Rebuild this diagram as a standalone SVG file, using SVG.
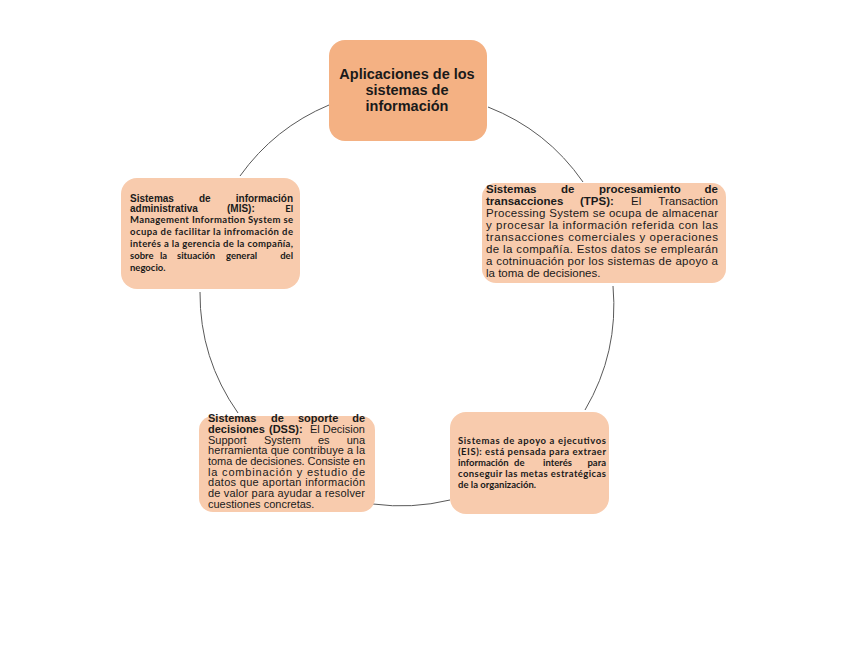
<svg xmlns="http://www.w3.org/2000/svg" width="848" height="655" viewBox="0 0 848 655">
<style>
.main{fill:#f4b183}
.box{fill:#f8cbad}
.conn{fill:none;stroke:#595959;stroke-width:1}
.t{font-family:"Liberation Sans",Arial,sans-serif;fill:#1a1a1a}
.b{font-weight:bold}
.c{font-family:Lato,"Noto Sans",sans-serif;font-weight:bold;font-size:9.5px;fill:#1a1a1a}
</style>
<rect width="848" height="655" fill="#ffffff"/>
<g id="connectors">
<path class="conn" d="M329,105 A208,208 0 0 0 240,176"/>
<path class="conn" d="M488,107 A208,208 0 0 1 583,182"/>
<path class="conn" d="M613,286 A208,208 0 0 1 585,410"/>
<path class="conn" d="M450,500 A208,208 0 0 1 373,504"/>
<path class="conn" d="M238,413 A208,208 0 0 1 200,292"/>
</g>
<g id="main">
<rect class="main" x="329" y="40" width="158" height="101" rx="16"/>
<text class="t b" font-size="14.5" text-anchor="middle" fill="#000"><tspan x="407" y="79">Aplicaciones de los</tspan><tspan x="407" y="95">sistemas de</tspan><tspan x="407" y="111">información</tspan></text>
</g>
<g id="tps">
<rect class="box" x="482" y="183" width="244" height="100" rx="14"/>
<g class="t" font-size="11.5">
<text class="b" y="193"><tspan x="486">Sistemas</tspan><tspan x="561">de</tspan><tspan x="599">procesamiento</tspan></text>
<text class="b" x="718" y="193" text-anchor="end">de</text>
<text y="205"><tspan x="486" class="b">transacciones</tspan><tspan x="580" class="b">(TPS):</tspan><tspan x="631">El</tspan></text>
<text x="718" y="205" text-anchor="end">Transaction</text>
<text x="486" y="217" textLength="232" lengthAdjust="spacing">Processing System se ocupa de almacenar</text>
<text x="486" y="229" textLength="232" lengthAdjust="spacing">y procesar la información referida con las</text>
<text x="486" y="241" textLength="232" lengthAdjust="spacing">transacciones comerciales y operaciones</text>
<text x="486" y="253" textLength="232" lengthAdjust="spacing">de la compañía. Estos datos se emplearán</text>
<text x="486" y="265" textLength="232" lengthAdjust="spacing">a cotninuación por los sistemas de apoyo a</text>
<text x="486" y="277">la toma de decisiones.</text>
</g>
</g>
<g id="mis">
<rect class="box" x="121" y="178" width="179" height="111" rx="16"/>
<g class="t b" font-size="10">
<text y="202"><tspan x="130">Sistemas</tspan><tspan x="199">de</tspan></text>
<text x="293" y="202" text-anchor="end">información</text>
<text y="212"><tspan x="130">administrativa</tspan><tspan x="227">(MIS):</tspan></text>
</g>
<text class="c" x="293" y="212" text-anchor="end">El</text>
<text class="c" x="130" y="223" textLength="163" lengthAdjust="spacing">Management Information System se</text>
<text class="c" x="130" y="235" textLength="163" lengthAdjust="spacing">ocupa de facilitar la infromación de</text>
<text class="c" x="130" y="247" textLength="163" lengthAdjust="spacing">interés a la gerencia de la compañía,</text>
<text class="c" y="259"><tspan x="130">sobre</tspan><tspan x="160">la</tspan><tspan x="177">situación</tspan><tspan x="226">general</tspan></text>
<text class="c" x="293" y="259" text-anchor="end">del</text>
<text class="c" x="130" y="271">negocio.</text>
</g>
<g id="dss">
<rect class="box" x="199" y="416" width="176" height="96" rx="14"/>
<g class="t" font-size="11">
<text class="b" y="422"><tspan x="208">Sistemas</tspan><tspan x="271">de</tspan><tspan x="298">soporte</tspan></text>
<text class="b" x="365" y="422" text-anchor="end">de</text>
<text class="b" y="433"><tspan x="208">decisiones</tspan><tspan x="269">(DSS):</tspan></text>
<text x="365" y="433" text-anchor="end">El Decision</text>
<text y="443.5"><tspan x="208">Support</tspan><tspan x="264">System</tspan><tspan x="318">es</tspan></text>
<text x="365" y="443.5" text-anchor="end">una</text>
<text x="208" y="454" textLength="157" lengthAdjust="spacing">herramienta que contribuye a la</text>
<text x="208" y="465" textLength="157" lengthAdjust="spacing">toma de decisiones. Consiste en</text>
<text x="208" y="475.5" textLength="157" lengthAdjust="spacing">la combinación y estudio de</text>
<text x="208" y="486" textLength="157" lengthAdjust="spacing">datos que aportan información</text>
<text x="208" y="497" textLength="157" lengthAdjust="spacing">de valor para ayudar a resolver</text>
<text x="208" y="507.5">cuestiones concretas.</text>
</g>
</g>
<g id="eis">
<rect class="box" x="450" y="412" width="159" height="102" rx="16"/>
<text class="c" x="458" y="444" textLength="148" lengthAdjust="spacing">Sistemas de apoyo a ejecutivos</text>
<text class="c" x="458" y="455" textLength="148" lengthAdjust="spacing">(EIS): está pensada para extraer</text>
<text class="c" y="466"><tspan x="458">información</tspan><tspan x="514">de</tspan><tspan x="543">interés</tspan></text>
<text class="c" x="606" y="466" text-anchor="end">para</text>
<text class="c" x="458" y="477" textLength="148" lengthAdjust="spacing">conseguir las metas estratégicas</text>
<text class="c" x="458" y="488">de la organización.</text>
</g>
</svg>
